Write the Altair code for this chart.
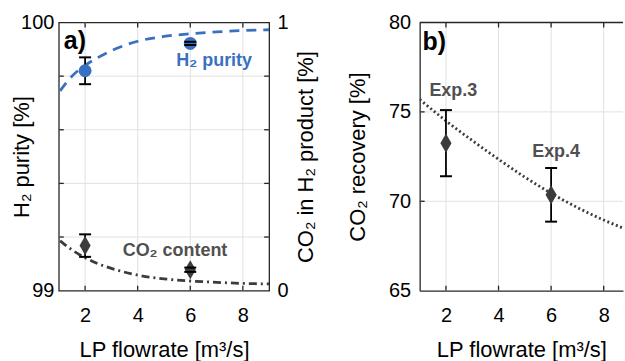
import altair as alt
import pandas as pd

FONT = "Liberation Sans"
BLUE = "#3a70c0"
DARK = "#3c3c3c"
TXTGRAY = "#505050"
GRID = "#e1e1e1"
FRAME = "#262626"

W_A, W_B, H = 211, 204, 269
PX_PER_UNIT = W_A / 8.0
XA_DOM = [1, 9]
XB_DOM = [1, 1 + W_B / PX_PER_UNIT]

# ---------------- data ----------------
x_ticks = [2, 4, 6, 8]
purity_grid = [99.2, 99.4, 99.6, 99.8]
purity_labels = [99, 100]
co2_grid = [0.2, 0.4, 0.6, 0.8]
co2_labels = [0, 1]
rec_grid = [70, 75]
rec_labels = [65, 70, 75, 80]

h2_x = [2, 6]
h2_y = [99.82, 99.922]
h2_err = [0.05, 0.006]

co2_x = [2, 6]
co2_y = [0.168, 0.078]
co2_err = [0.042, 0.008]

h2_fit_x = [1.05, 1.5, 2, 2.5, 3, 4, 5, 6, 7, 8, 9]
h2_fit_y = [99.745, 99.8, 99.84, 99.87, 99.895, 99.93, 99.948, 99.958, 99.965, 99.97, 99.973]

co2_fit_x = [1.05, 1.5, 2, 2.5, 3, 4, 5, 6, 7, 8, 9]
co2_fit_y = [0.186, 0.152, 0.123, 0.1, 0.083, 0.058, 0.044, 0.036, 0.031, 0.027, 0.025]

rec_x = [2, 6]
rec_y = [73.25, 70.36]
rec_err = [1.85, 1.5]

rec_fit_x = [1, 2, 3, 4, 5, 6, 7, 8, 8.74]
rec_fit_y = [75.7, 74.5, 73.4, 72.35, 71.35, 70.45, 69.65, 68.95, 68.5]

# annotation texts (data coordinates)
ann_a = {"t": ["a)"], "x": [1.19], "y": [99.9]}
ann_h2 = {"t": ["H₂ purity"], "x": [6.91], "y": [99.836]}
ann_co2 = {"t": ["CO₂ content"], "x": [5.42], "y": [0.13]}
ann_b = {"t": ["b)"], "x": [1.11], "y": [78.49]}
ann_exp = {"t": ["Exp.3", "Exp.4"], "x": [2.28, 6.19], "y": [75.87, 72.47]}


def err_df(xs, ys, es):
    return pd.DataFrame({"x": xs, "y": ys,
                         "lo": [y - e for y, e in zip(ys, es)],
                         "hi": [y + e for y, e in zip(ys, es)]})


label_style = dict(labelFont=FONT, labelFontSize=20, labelColor="black",
                   labelOverlap=False, labelFlush=False, labelSeparation=0,
                   titleFont=FONT, titleFontSize=22, titleFontWeight="normal",
                   titleColor="black", grid=False, ticks=False)

x_title = "LP flowrate [m³/s]"


def x_axis(domain):
    kw = dict(values=x_ticks, title=x_title, labelPadding=15,
              titleBaseline="alphabetic", titleY=66, domain=domain,
              labelExpr="format(datum.value, 'd')")
    if domain:
        kw.update(domainColor=FRAME, domainWidth=1.3)
    return alt.Axis(**kw, **label_style)


AX_A = x_axis(False)
AX_B = x_axis(True)
AY_L = alt.Axis(values=purity_labels, format="d", title="H₂ purity [%]",
                labelPadding=5, domain=False, titleAngle=270,
                titleBaseline="alphabetic", titleAlign="center",
                titleX=-30, titleY=H / 2, **label_style)
AY_R = alt.Axis(values=co2_labels, format="d", orient="right",
                title="CO₂ in H₂ product [%]", labelPadding=8, domain=False,
                titleAngle=270, titleBaseline="alphabetic", titleAlign="center",
                titleX=43, titleY=H / 2, **label_style)
AY_B = alt.Axis(values=rec_labels, format="d", title="CO₂ recovery [%]",
                labelPadding=9, domain=True, domainColor=FRAME, domainWidth=1.3,
                titleAngle=270, titleBaseline="alphabetic", titleAlign="center",
                titleX=-55, titleY=H / 2, **label_style)

YL_DOM = [99, 100]
YR_DOM = [0, 1]
YB_DOM = [65, 80]


def XA():
    return alt.X("x:Q", scale=alt.Scale(domain=XA_DOM, nice=False, zero=False), axis=AX_A)


def XB():
    return alt.X("x:Q", scale=alt.Scale(domain=XB_DOM, nice=False, zero=False), axis=AX_B)


def YL(f="y"):
    return alt.Y(f"{f}:Q", scale=alt.Scale(domain=YL_DOM, nice=False, zero=False), axis=AY_L)


def YR(f="y"):
    return alt.Y(f"{f}:Q", scale=alt.Scale(domain=YR_DOM, nice=False, zero=False), axis=AY_R)


def YB(f="y"):
    return alt.Y(f"{f}:Q", scale=alt.Scale(domain=YB_DOM, nice=False, zero=False), axis=AY_B)


DIAMOND = "M0,-1L0.58,0L0,1L-0.58,0Z"


def err_layers(df, xf, yf, color_pt, shape, size):
    bar = alt.Chart(df).mark_rule(color="black", strokeWidth=1.8).encode(
        x=xf(), y=yf("lo"), y2="hi:Q")
    pts = alt.Chart(df).mark_point(filled=True, shape=shape, size=size, color=color_pt, opacity=1).encode(
        x=xf(), y=yf("y"))
    lo = alt.Chart(df).mark_tick(orient="horizontal", size=12, thickness=2, color="black", opacity=1).encode(
        x=xf(), y=yf("lo"))
    hi = alt.Chart(df).mark_tick(orient="horizontal", size=12, thickness=2, color="black", opacity=1).encode(
        x=xf(), y=yf("hi"))
    return [bar, pts, lo, hi]


# ---------------- panel a ----------------
xt_df = pd.DataFrame({"x": x_ticks})
vgrid_a = alt.Chart(xt_df).mark_rule(color=GRID, strokeWidth=1).encode(x=XA())
hgrid_a = alt.Chart(pd.DataFrame({"y": purity_grid})).mark_rule(color=GRID, strokeWidth=1).encode(y=YL())
xt_a_top = alt.Chart(xt_df).mark_rule(color=FRAME, strokeWidth=1.3).encode(
    x=XA(), y=alt.value(0), y2=alt.value(5))
xt_a_bot = alt.Chart(xt_df).mark_rule(color=FRAME, strokeWidth=1.3).encode(
    x=XA(), y=alt.value(H - 5), y2=alt.value(H))
yt_a_l = alt.Chart(pd.DataFrame({"y": purity_grid})).mark_rule(color=FRAME, strokeWidth=1.3).encode(
    y=YL(), x=alt.value(0), x2=alt.value(5))
yt_a_r = alt.Chart(pd.DataFrame({"y": purity_grid})).mark_rule(color=FRAME, strokeWidth=1.3).encode(
    y=YL(), x=alt.value(W_A - 5), x2=alt.value(W_A))

h2_line = alt.Chart(pd.DataFrame({"x": h2_fit_x, "y": h2_fit_y})).mark_line(
    color=BLUE, strokeDash=[10, 7], strokeWidth=2.8, clip=True, interpolate="monotone").encode(
    x=XA(), y=YL())

txt_a = alt.Chart(pd.DataFrame(ann_a)).mark_text(
    font=FONT, fontSize=25, fontWeight="bold", color="black", align="left", baseline="alphabetic").encode(
    x=XA(), y=YL(), text="t:N")
txt_h2 = alt.Chart(pd.DataFrame(ann_h2)).mark_text(
    font=FONT, fontSize=18, fontWeight="bold", color=BLUE, align="center", baseline="alphabetic").encode(
    x=XA(), y=YL(), text="t:N")

left_a = alt.layer(vgrid_a, hgrid_a, xt_a_top, xt_a_bot, yt_a_l, yt_a_r, h2_line,
                   *err_layers(err_df(h2_x, h2_y, h2_err), XA, YL, BLUE, "circle", 170),
                   txt_a, txt_h2)

co2_line = alt.Chart(pd.DataFrame({"x": co2_fit_x, "y": co2_fit_y})).mark_line(
    color=DARK, strokeDash=[8, 4, 2, 4], strokeWidth=2.8, clip=True, interpolate="monotone").encode(
    x=XA(), y=YR())
txt_co2 = alt.Chart(pd.DataFrame(ann_co2)).mark_text(
    font=FONT, fontSize=18, fontWeight="bold", color=TXTGRAY, align="center", baseline="alphabetic").encode(
    x=XA(), y=YR(), text="t:N")

right_a = alt.layer(co2_line,
                    *err_layers(err_df(co2_x, co2_y, co2_err), XA, YR, DARK, DIAMOND, 370),
                    txt_co2)

panel_a = alt.layer(left_a, right_a).resolve_scale(y="independent").properties(
    width=W_A, height=H, view=alt.ViewBackground(stroke=FRAME, strokeWidth=1.3))

# ---------------- panel b ----------------
vgrid_b = alt.Chart(xt_df).mark_rule(color=GRID, strokeWidth=1).encode(x=XB())
hgrid_b = alt.Chart(pd.DataFrame({"y": rec_grid})).mark_rule(color=GRID, strokeWidth=1).encode(y=YB())
top_b = alt.Chart(pd.DataFrame({"x": [0]})).mark_rule(color=FRAME, strokeWidth=1.3).encode(
    x=alt.value(0), x2=alt.value(W_B), y=alt.value(0))
xt_b_top = alt.Chart(xt_df).mark_rule(color=FRAME, strokeWidth=1.3).encode(
    x=XB(), y=alt.value(0), y2=alt.value(5))
xt_b_bot = alt.Chart(xt_df).mark_rule(color=FRAME, strokeWidth=1.3).encode(
    x=XB(), y=alt.value(H - 5), y2=alt.value(H))
yt_b_l = alt.Chart(pd.DataFrame({"y": rec_grid})).mark_rule(color=FRAME, strokeWidth=1.3).encode(
    y=YB(), x=alt.value(0), x2=alt.value(5))

rec_line = alt.Chart(pd.DataFrame({"x": rec_fit_x, "y": rec_fit_y})).mark_line(
    color=DARK, strokeDash=[2, 2.6], strokeWidth=2.8, clip=True, interpolate="monotone").encode(
    x=XB(), y=YB())
txt_b = alt.Chart(pd.DataFrame(ann_b)).mark_text(
    font=FONT, fontSize=25, fontWeight="bold", color="black", align="left", baseline="alphabetic").encode(
    x=XB(), y=YB(), text="t:N")
txt_exp = alt.Chart(pd.DataFrame(ann_exp)).mark_text(
    font=FONT, fontSize=18, fontWeight="bold", color=TXTGRAY, align="center", baseline="alphabetic").encode(
    x=XB(), y=YB(), text="t:N")

panel_b = alt.layer(vgrid_b, hgrid_b, top_b, xt_b_top, xt_b_bot, yt_b_l, rec_line,
                    *err_layers(err_df(rec_x, rec_y, rec_err), XB, YB, DARK, DIAMOND, 370),
                    txt_b, txt_exp).properties(
    width=W_B, height=H, view=alt.ViewBackground(stroke="transparent"))

chart = alt.hconcat(panel_a, panel_b, spacing=151, bounds="flush").properties(
    padding={"left": 10, "top": 11, "right": 0, "bottom": 0},
    background="white",
).configure(font=FONT).configure_axis(labelOverlap=False, labelSeparation=0)

chart.save("out.html", embed_options={"renderer": "svg", "actions": False})
